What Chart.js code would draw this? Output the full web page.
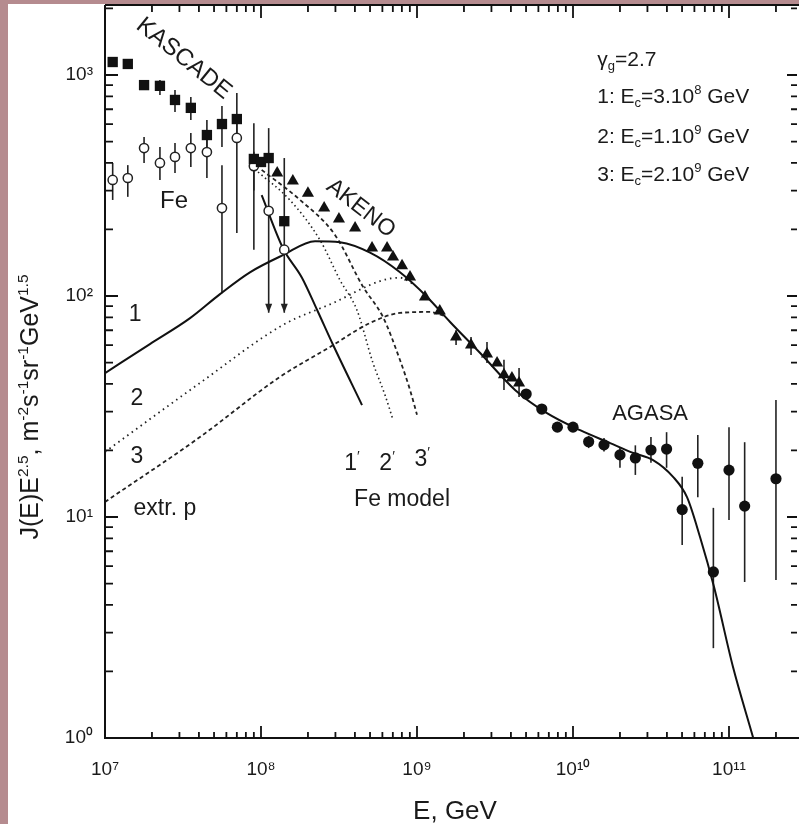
<!DOCTYPE html>
<html><head><meta charset="utf-8">
<script src="https://cdn.jsdelivr.net/npm/chart.js@4.4.1/dist/chart.umd.min.js"></script>
<style>
html,body{margin:0;padding:0;background:#fff;}
canvas{display:block;}
</style></head><body>
<canvas id="c" width="799" height="824"></canvas>
<script>
// ---------------- data ----------------
const xTickValues = [1e7, 1e8, 1e9, 1e10, 1e11];
const xTickLabels = ['10⁷', '10⁸', '10⁹', '10¹⁰', '10¹¹'];
const yTickValues = [1, 10, 100, 1000];
const yTickLabels = ['10⁰', '10¹', '10²', '10³'];

// KASCADE all-particle (filled squares)
const kascadeE  = [1.12e7, 1.40e7, 1.78e7, 2.25e7, 2.81e7, 3.55e7, 4.50e7, 5.62e7, 7.00e7, 9.00e7, 1.00e8, 1.12e8, 1.41e8];
const kascadeJ  = [1145, 1122, 900, 893, 771, 710, 535, 600, 632, 417, 404, 421, 218];
const kascadeHi = [null, null, null, 949, 855, 795, 626, 724, 829, 605, null, 575, 421];
const kascadeLo = [null, null, null, 812, 680, 626, 472, 472, 520, 300, null, 84, 84];
const kascadeArrow = [0, 0, 0, 0, 0, 0, 0, 0, 0, 0, 0, 1, 1];

// KASCADE Fe (open circles)
const feE  = [1.12e7, 1.40e7, 1.78e7, 2.25e7, 2.81e7, 3.55e7, 4.50e7, 5.62e7, 7.00e7, 9.00e7, 1.12e8, 1.41e8];
const feJ  = [335, 342, 467, 400, 426, 467, 448, 250, 519, 387, 243, 162];
const feHi = [400, 391, 524, 472, 492, 547, 524, 391, 620, 450, null, null];
const feLo = [272, 281, 400, 335, 360, 383, 342, 103, 193, 162, null, null];

// AKENO (filled triangles)
const akenoE  = [1.27e8, 1.60e8, 2.00e8, 2.54e8, 3.16e8, 4.01e8, 5.15e8, 6.43e8, 7.02e8, 8.02e8, 9.02e8, 1.125e9, 1.40e9, 1.78e9, 2.22e9, 2.81e9, 3.26e9, 3.61e9, 4.06e9, 4.51e9];
const akenoJ  = [360, 331, 292, 250, 223, 203, 165, 165, 150, 137, 122, 99, 85.5, 65.2, 60, 54.7, 49.8, 44, 42.6, 40.4];
const akenoHi = [null, null, null, null, null, null, null, null, null, null, null, null, null, 70, 65.2, 62.0, null, 51.5, null, 47.2];
const akenoLo = [null, null, null, null, null, null, null, null, null, null, null, null, null, 60, 54.1, 49.7, null, 37.6, null, 34.9];

// AGASA (filled circles)
const agasaE  = [5.01e9, 6.31e9, 7.94e9, 1.0e10, 1.26e10, 1.58e10, 2.0e10, 2.51e10, 3.16e10, 3.98e10, 5.01e10, 6.31e10, 7.94e10, 1.0e11, 1.26e11, 2.0e11];
const agasaJ  = [36.0, 30.8, 25.5, 25.5, 21.9, 21.2, 19.1, 18.5, 20.1, 20.3, 10.8, 17.5, 5.64, 16.3, 11.2, 14.9];
const agasaHi = [null, null, null, null, 23.3, 22.8, 20.5, 21.1, 23.0, 24.2, 15.2, 23.5, 11.0, 25.5, 21.8, 33.8];
const agasaLo = [null, null, null, null, 20.5, 19.8, 16.7, 15.5, 17.6, 16.7, 7.47, 12.3, 2.55, 9.7, 5.08, 5.19];

// extragalactic proton model curves
const extr1E = [1e7, 1.94e7, 3.51e7, 5.46e7, 8.49e7, 1.38e8, 2.22e8, 3.21e8, 5.0e8, 7.78e8, 1.16e9, 1.63e9, 2.54e9, 4.25e9, 6.81e9, 1.11e10, 1.73e10, 2.43e10, 3.26e10, 4.38e10, 5.38e10, 6.52e10, 8.02e10, 1.06e11, 1.43e11, 1.63e11];
const extr1J = [44.8, 60.6, 79.4, 102, 128, 153, 177, 175, 157, 128, 99, 76.3, 55.2, 37.6, 29.5, 24.7, 21.6, 19.5, 18.1, 15.2, 12.3, 8.12, 4.82, 2.10, 1.0, 0.716];
const extr2E = [1e7, 4.06e7, 1.38e8, 2.9e8, 6.05e8, 7.78e8, 9.7e8];
const extr2J = [19.7, 40.4, 73.9, 93, 118, 121, 112];
const extr3E = [1e7, 4.06e7, 1.32e8, 2.77e8, 5.0e8, 7.78e8, 1.21e9, 1.51e9];
const extr3J = [11.7, 23.0, 43.0, 58.8, 75.5, 83.8, 84.7, 81.2];

// galactic Fe model curves
const fe1E = [1.01e8, 1.38e8, 1.83e8, 2.29e8, 2.9e8, 4.44e8];
const fe1J = [286, 165, 121, 86.4, 60, 32.1];
const fe2E = [9.57e7, 1.53e8, 2.39e8, 3.21e8, 4.12e8, 5.22e8, 6.24e8, 7.02e8];
const fe2J = [364, 272, 179, 118, 86.4, 49.8, 35.6, 27.5];
const fe3E = [1.01e8, 1.78e8, 2.98e8, 4.51e8, 6.05e8, 7.78e8, 9.02e8, 1.0e9];
const fe3J = [372, 272, 189, 110, 80.4, 51.3, 37.6, 29.0];

// ---------------- text ----------------
const FONT = '"Liberation Sans", Arial, Helvetica, sans-serif';
const yTitleParts = [{t:'J(E)E'},{t:'2.5',sup:1},{t:', m'},{t:'-2',sup:1},{t:'s'},{t:'-1',sup:1},{t:'sr'},{t:'-1',sup:1},{t:'GeV'},{t:'1.5',sup:1}];
const xTitleParts = [{t:'E, GeV'}];
const notes = [
  {parts:[{t:'KASCADE'}], E:3.26e7, J:1206, rot:39, size:24, align:'center'},
  {parts:[{t:'AKENO'}], E:4.44e8, J:253, rot:38, size:23, align:'center'},
  {parts:[{t:'Fe'}], E:2.77e7, J:275, rot:0, size:24, align:'center'},
  {parts:[{t:'AGASA'}], E:3.12e10, J:29.9, rot:0, size:22, align:'center'},
  {parts:[{t:'1'}], E:1.56e7, J:83.8, rot:0, size:23, align:'center'},
  {parts:[{t:'2'}], E:1.60e7, J:34.9, rot:0, size:23, align:'center'},
  {parts:[{t:'3'}], E:1.60e7, J:19.1, rot:0, size:23, align:'center'},
  {parts:[{t:'extr. p'}], E:2.42e7, J:11.1, rot:0, size:23, align:'center'},
  {parts:[{t:'1'},{t:'\u2032',sup:1}], E:3.83e8, J:17.7, rot:0, size:23, align:'center'},
  {parts:[{t:'2'},{t:'\u2032',sup:1}], E:6.43e8, J:17.7, rot:0, size:23, align:'center'},
  {parts:[{t:'3'},{t:'\u2032',sup:1}], E:1.08e9, J:18.5, rot:0, size:23, align:'center'},
  {parts:[{t:'Fe model'}], E:8.02e8, J:12.2, rot:0, size:23, align:'center'},
  {parts:[{t:'γ'},{t:'g',sub:1},{t:'=2.7'}], E:1.43e10, J:1194, rot:0, size:21, align:'left'},
  {parts:[{t:'1: E'},{t:'c',sub:1},{t:'=3.10'},{t:'8',sup:1},{t:' GeV'}], E:1.43e10, J:812, rot:0, size:21, align:'left'},
  {parts:[{t:'2: E'},{t:'c',sub:1},{t:'=1.10'},{t:'9',sup:1},{t:' GeV'}], E:1.43e10, J:535, rot:0, size:21, align:'left'},
  {parts:[{t:'3: E'},{t:'c',sub:1},{t:'=2.10'},{t:'9',sup:1},{t:' GeV'}], E:1.43e10, J:360, rot:0, size:21, align:'left'}
];

const PINK = '#b58b8f';
const INK = '#111';

function fnt(s){ return s.toFixed(1) + 'px ' + FONT; }
function drawRich(ctx, parts, x, y, size, align, rot){
  ctx.save();
  ctx.translate(x, y);
  ctx.rotate(rot * Math.PI / 180);
  let w = 0;
  for (const p of parts){ ctx.font = fnt((p.sup||p.sub) ? size*0.62 : size); w += ctx.measureText(p.t).width; }
  let cx = align === 'left' ? 0 : (align === 'right' ? -w : -w/2);
  ctx.fillStyle = '#1a1a1a';
  ctx.textBaseline = 'alphabetic';
  ctx.textAlign = 'left';
  for (const p of parts){
    const s = (p.sup||p.sub) ? size*0.62 : size;
    ctx.font = fnt(s);
    const dy = p.sup ? -size*0.42 : (p.sub ? size*0.22 : 0);
    ctx.fillText(p.t, cx, size*0.36 + dy);
    cx += ctx.measureText(p.t).width;
  }
  ctx.restore();
}

function errBars(ctx, xs, ys, E, lo, hi, arrows){
  ctx.save();
  ctx.strokeStyle = '#222';
  ctx.fillStyle = '#222';
  ctx.lineWidth = 1.6;
  for (let i = 0; i < E.length; i++){
    if (hi[i] == null || lo[i] == null) continue;
    const px = xs.getPixelForValue(E[i]);
    const y1 = ys.getPixelForValue(hi[i]);
    const y2 = ys.getPixelForValue(lo[i]);
    ctx.beginPath(); ctx.moveTo(px, y1); ctx.lineTo(px, y2); ctx.stroke();
    if (arrows && arrows[i]){
      ctx.beginPath(); ctx.moveTo(px - 3.5, y2 - 9); ctx.lineTo(px + 3.5, y2 - 9); ctx.lineTo(px, y2); ctx.closePath(); ctx.fill();
    }
  }
  ctx.restore();
}

const decor = {
  id: 'decor',
  beforeDraw(chart){
    const ctx = chart.ctx;
    ctx.save();
    ctx.fillStyle = '#fff'; ctx.fillRect(0, 0, chart.width, chart.height);
    ctx.fillStyle = PINK; ctx.fillRect(0, 0, 8, chart.height); ctx.fillRect(0, 0, chart.width, 4);
    ctx.restore();
  },
  beforeDatasetsDraw(chart){
    const ctx = chart.ctx, xs = chart.scales.x, ys = chart.scales.y, a = chart.chartArea;
    ctx.save();
    ctx.beginPath(); ctx.rect(a.left, a.top, a.right - a.left, a.bottom - a.top); ctx.clip();
    errBars(ctx, xs, ys, kascadeE, kascadeLo, kascadeHi, kascadeArrow);
    errBars(ctx, xs, ys, feE, feLo, feHi, null);
    errBars(ctx, xs, ys, akenoE, akenoLo, akenoHi, null);
    errBars(ctx, xs, ys, agasaE, agasaLo, agasaHi, null);
    ctx.restore();
  },
  afterDraw(chart){
    const ctx = chart.ctx, xs = chart.scales.x, ys = chart.scales.y, a = chart.chartArea;
    ctx.save();
    ctx.strokeStyle = INK;
    ctx.lineWidth = 2;
    ctx.beginPath();
    ctx.moveTo(a.left, a.top); ctx.lineTo(a.right, a.top);
    ctx.moveTo(a.left, a.top); ctx.lineTo(a.left, a.bottom); ctx.lineTo(a.right, a.bottom);
    ctx.stroke();
    ctx.lineWidth = 1.8;
    ctx.beginPath();
    for (let n = 7; n <= 11; n++){
      for (let k = 1; k <= 9; k++){
        const v = k * Math.pow(10, n);
        if (v < xs.min || v > xs.max) continue;
        const px = xs.getPixelForValue(v);
        const major = k === 1;
        ctx.moveTo(px, a.bottom); ctx.lineTo(px, a.bottom - (major ? 12 : 6));
        ctx.moveTo(px, a.top); ctx.lineTo(px, a.top + (major ? 13 : 7));
      }
    }
    for (let n = 0; n <= 3; n++){
      for (let k = 1; k <= 9; k++){
        const v = k * Math.pow(10, n);
        if (v < ys.min || v > ys.max) continue;
        const py = ys.getPixelForValue(v);
        const major = k === 1;
        ctx.moveTo(a.left, py); ctx.lineTo(a.left + (major ? 13 : 8), py);
        ctx.moveTo(a.right - 2, py); ctx.lineTo(a.right - 2 - (major ? 10 : 6), py);
      }
    }
    ctx.stroke();
    ctx.restore();
    for (const n of notes){
      drawRich(ctx, n.parts, xs.getPixelForValue(n.E), ys.getPixelForValue(n.J), n.size, n.align, n.rot);
    }
    drawRich(ctx, yTitleParts, 29, 407, 25, 'center', -90);
    drawRich(ctx, xTitleParts, 455, 810, 26, 'center', 0);
  }
};

function pts(E, J){ return E.map((e, i) => ({x: e, y: J[i]})); }

const tickFont = {family: FONT, size: 19};

new Chart(document.getElementById('c'), {
  type: 'scatter',
  data: {
    datasets: [
      {label:'KASCADE', data: pts(kascadeE, kascadeJ), pointStyle:'rect', pointRadius:7.3, backgroundColor:'#111', borderColor:'#111', borderWidth:0},
      {label:'KASCADE Fe', data: pts(feE, feJ), pointStyle:'circle', pointRadius:4.6, backgroundColor:'#fff', borderColor:'#222', borderWidth:1.5},
      {label:'AKENO', data: pts(akenoE, akenoJ), pointStyle:'triangle', pointRadius:7, backgroundColor:'#111', borderColor:'#111', borderWidth:0},
      {label:'AGASA', data: pts(agasaE, agasaJ), pointStyle:'circle', pointRadius:5.6, backgroundColor:'#111', borderColor:'#111', borderWidth:0},
      {label:'extr. p 1', data: pts(extr1E, extr1J), showLine:true, borderColor:'#111', borderWidth:2, pointRadius:0, cubicInterpolationMode:'monotone'},
      {label:'extr. p 2', data: pts(extr2E, extr2J), showLine:true, borderColor:'#222', borderWidth:1.8, borderDash:[1.5,4], pointRadius:0, cubicInterpolationMode:'monotone'},
      {label:'extr. p 3', data: pts(extr3E, extr3J), showLine:true, borderColor:'#222', borderWidth:1.8, borderDash:[4,3], pointRadius:0, cubicInterpolationMode:'monotone'},
      {label:'Fe 1', data: pts(fe1E, fe1J), showLine:true, borderColor:'#111', borderWidth:2, pointRadius:0, cubicInterpolationMode:'monotone'},
      {label:'Fe 2', data: pts(fe2E, fe2J), showLine:true, borderColor:'#222', borderWidth:1.6, borderDash:[1.5,3], pointRadius:0, cubicInterpolationMode:'monotone'},
      {label:'Fe 3', data: pts(fe3E, fe3J), showLine:true, borderColor:'#222', borderWidth:1.8, borderDash:[4,3], pointRadius:0, cubicInterpolationMode:'monotone'}
    ]
  },
  options: {
    responsive: false,
    animation: false,
    devicePixelRatio: 1,
    layout: {autoPadding: false, padding: {top: 5, right: 0, left: 0, bottom: 0}},
    plugins: {legend: {display: false}, tooltip: {enabled: false}},
    scales: {
      x: {
        type: 'logarithmic', position: 'bottom',
        min: 1e7, max: Math.pow(10, 7 + 694/156),
        afterBuildTicks: s => { s.ticks = xTickValues.map(v => ({value: v, major: true})); },
        afterFit: s => { s.height = 86; s.paddingLeft = 0; s.paddingRight = 0; s.paddingTop = 0; s.paddingBottom = 0; },
        ticks: {callback: (v, i) => xTickLabels[i], autoSkip: false, maxRotation: 0, font: tickFont, color: '#1a1a1a', padding: 20},
        grid: {display: false, drawTicks: false},
        border: {display: false}
      },
      y: {
        type: 'logarithmic', position: 'left',
        min: 1, max: Math.pow(10, 733/221),
        afterBuildTicks: s => { s.ticks = yTickValues.map(v => ({value: v, major: true})); },
        afterFit: s => { s.width = 105; s.paddingLeft = 0; s.paddingRight = 0; s.paddingTop = 0; s.paddingBottom = 0; },
        ticks: {callback: (v, i) => yTickLabels[i], autoSkip: false, font: tickFont, color: '#1a1a1a', padding: 12},
        grid: {display: false, drawTicks: false},
        border: {display: false}
      }
    }
  },
  plugins: [decor]
});
</script>
</body></html>
